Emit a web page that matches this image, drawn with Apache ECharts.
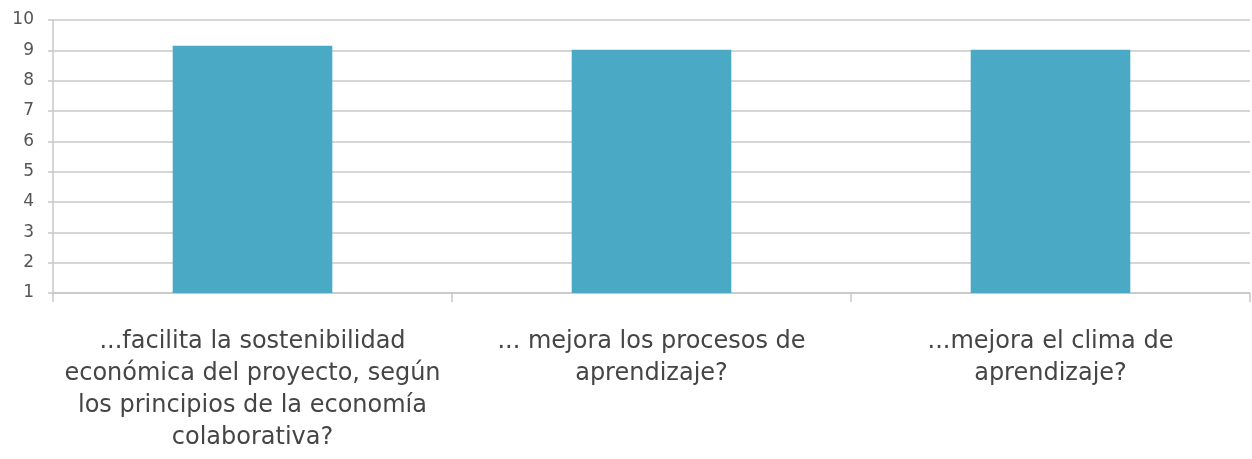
<!DOCTYPE html>
<html><head><meta charset="utf-8">
<script src="https://cdn.jsdelivr.net/npm/echarts@6/dist/echarts.min.js"></script>
<style>html,body{margin:0;padding:0;background:#fff}#c{width:1252px;height:459px}</style>
</head><body><div id="c"></div>
<script>
const categories = [
  "...facilita la sostenibilidad\neconómica del proyecto, según\nlos principios de la economía\ncolaborativa?",
  "... mejora los procesos de\naprendizaje?",
  "...mejora el clima de\naprendizaje?"
];
const values = [9.15, 9.02, 9.02];
const yTicks = [1, 2, 3, 4, 5, 6, 7, 8, 9, 10];

const chart = echarts.init(document.getElementById('c'));
chart.setOption({
  animation: false,
  grid: { left: 53, right: 2, top: 20, bottom: 166, containLabel: false },
  xAxis: {
    type: 'category',
    data: categories,
    axisLine: { show: true, lineStyle: { color: '#c8c8c8', width: 1.5 } },
    axisTick: { show: true, alignWithLabel: false, length: 9, lineStyle: { color: '#c8c8c8', width: 1.5 } },
    axisLabel: { color: '#454545', fontFamily: 'DejaVu Sans', fontSize: 24, lineHeight: 32, margin: 33, interval: 0 }
  },
  yAxis: {
    type: 'value',
    min: yTicks[0],
    max: yTicks[yTicks.length - 1],
    interval: 1,
    axisLine: { show: true, lineStyle: { color: '#c8c8c8', width: 1.5 } },
    axisTick: { show: true, length: 5, lineStyle: { color: '#c8c8c8', width: 1.5 } },
    axisLabel: { color: '#555555', fontFamily: 'DejaVu Sans', fontSize: 17, margin: 19 },
    splitLine: { show: true, lineStyle: { color: '#d6d6d6', width: 2 } }
  },
  series: [{
    type: 'bar',
    data: values,
    barWidth: '40%',
    itemStyle: { color: '#4aaac5' }
  }]
});
</script></body></html>
